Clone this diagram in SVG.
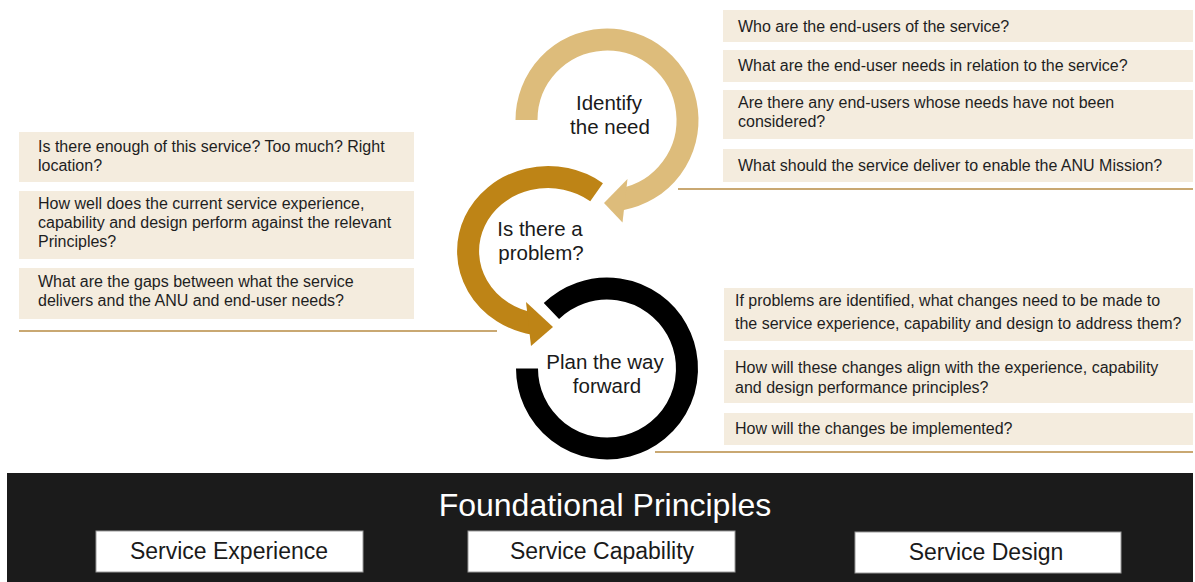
<svg xmlns="http://www.w3.org/2000/svg" width="1195" height="582" viewBox="0 0 1195 582">
<style>
.q{font-family:"Liberation Sans",Arial,sans-serif;font-size:16px;fill:#1e1e1e}
.box{fill:#F4ECDE}
.sep{stroke:#C9A872;stroke-width:2}
.lbl{font-family:"Liberation Sans",Arial,sans-serif;font-size:20.5px;fill:#1a1a1a;text-anchor:middle}
.fp{font-family:"Liberation Sans",Arial,sans-serif;text-anchor:middle}
.wb{fill:#fff;stroke:#9a9a9a;stroke-width:1}
</style>
<rect width="1195" height="582" fill="#fff"/>

<g id="identify-need">
<path d="M526.5,120 A80.5,80.5 0 1 1 621,199.3" fill="none" stroke="#DDBC7B" stroke-width="22"/>
<polygon points="627.5,179 622.5,222.5 604,203" fill="#DDBC7B"/>
<text class="lbl"><tspan x="609" y="110">Identify</tspan><tspan x="610" dy="24">the need</tspan></text>
</g>

<g id="is-there-problem">
<path d="M596.6,192.2 A80,74 0 1 0 534.1,323.9" fill="none" stroke="#BE8416" stroke-width="22"/>
<polygon points="526,302 531,346 553,327" fill="#BE8416"/>
<text class="lbl"><tspan x="540" y="236">Is there a</tspan><tspan x="541" dy="24">problem?</tspan></text>
</g>

<g id="plan-way-forward">
<path d="M551.4,311 A80,80 0 1 1 527,368.5" fill="none" stroke="#000" stroke-width="22"/>
<text class="lbl"><tspan x="605" y="369">Plan the way</tspan><tspan x="607" dy="24">forward</tspan></text>
</g>

<g id="need-questions">
<rect class="box" x="723" y="10" width="470" height="32"/>
<text class="q" x="738" y="32">Who are the end-users of the service?</text>
<rect class="box" x="723" y="50" width="470" height="32"/>
<text class="q" x="738" y="71">What are the end-user needs in relation to the service?</text>
<rect class="box" x="723" y="90" width="470" height="49"/>
<text class="q"><tspan x="738" y="108">Are there any end-users whose needs have not been</tspan><tspan x="738" dy="19">considered?</tspan></text>
<rect class="box" x="723" y="149" width="470" height="33"/>
<text class="q" x="738" y="171">What should the service deliver to enable the ANU Mission?</text>
<line class="sep" x1="678" y1="189" x2="1193" y2="189"/>
</g>

<g id="problem-questions">
<rect class="box" x="19" y="132" width="395" height="50"/>
<text class="q"><tspan x="38" y="152">Is there enough of this service? Too much? Right</tspan><tspan x="38" dy="19">location?</tspan></text>
<rect class="box" x="19" y="191" width="395" height="68"/>
<text class="q"><tspan x="38" y="209">How well does the current service experience,</tspan><tspan x="38" dy="19">capability and design perform against the relevant</tspan><tspan x="38" dy="19">Principles?</tspan></text>
<rect class="box" x="19" y="268" width="395" height="51"/>
<text class="q"><tspan x="38" y="287">What are the gaps between what the service</tspan><tspan x="38" dy="19">delivers and the ANU and end-user needs?</tspan></text>
<line class="sep" x1="19" y1="331" x2="497" y2="331"/>
</g>

<g id="plan-questions">
<rect class="box" x="724" y="288" width="469" height="53"/>
<text class="q"><tspan x="735" y="306">If problems are identified, what changes need to be made to</tspan><tspan x="735" dy="23">the service experience, capability and design to address them?</tspan></text>
<rect class="box" x="724" y="350" width="469" height="53"/>
<text class="q"><tspan x="735" y="373">How will these changes align with the experience, capability</tspan><tspan x="735" dy="20">and design performance principles?</tspan></text>
<rect class="box" x="724" y="413" width="469" height="32"/>
<text class="q" x="735" y="434">How will the changes be implemented?</text>
<line class="sep" x1="655" y1="452" x2="1193" y2="452"/>
</g>

<g id="foundational-principles">
<rect x="7" y="473" width="1186" height="109" fill="#1B1B1B"/>
<text class="fp" x="605" y="516" font-size="32" fill="#fff">Foundational Principles</text>
</g>
<g id="service-experience">
<rect class="wb" x="96" y="531" width="267" height="41"/>
<text class="fp" x="229" y="559" font-size="23" fill="#1a1a1a">Service Experience</text>
</g>
<g id="service-capability">
<rect class="wb" x="468" y="531" width="267" height="41"/>
<text class="fp" x="602" y="559" font-size="23" fill="#1a1a1a">Service Capability</text>
</g>
<g id="service-design">
<rect class="wb" x="855" y="532" width="266" height="41"/>
<text class="fp" x="986" y="560" font-size="23" fill="#1a1a1a">Service Design</text>
</g>
<g id="connectors"></g>
</svg>
